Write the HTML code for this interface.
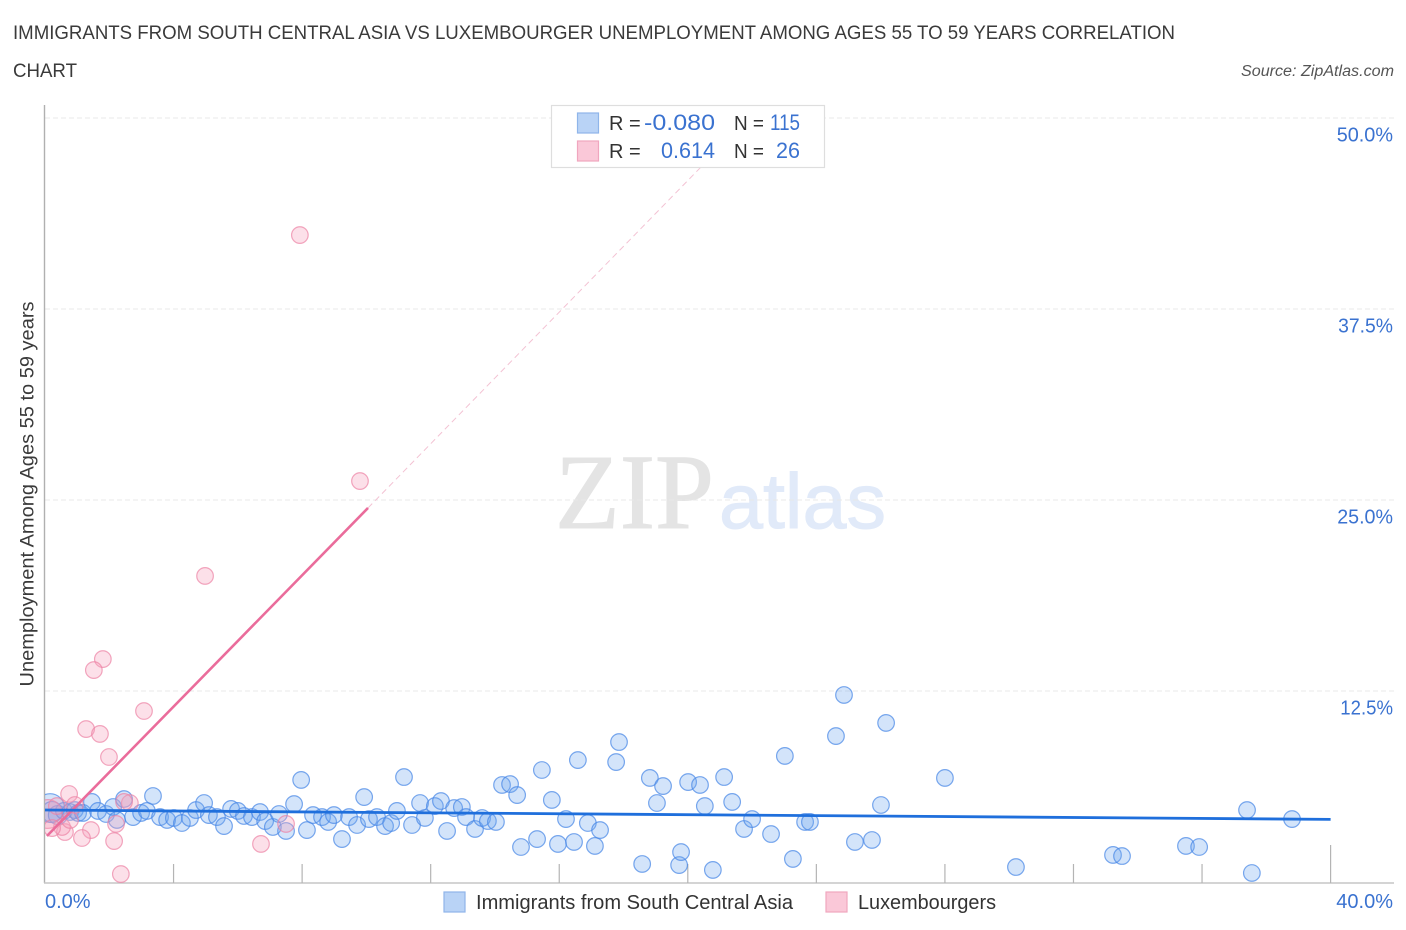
<!DOCTYPE html>
<html lang="en">
<head>
<meta charset="utf-8">
<title>Immigrants from South Central Asia vs Luxembourger Unemployment Chart</title>
<style>
html,body{margin:0;padding:0;background:#fff;width:1406px;height:930px;overflow:hidden}
svg{display:block;font-family:"Liberation Sans",sans-serif}
</style>
</head>
<body>
<svg id="chart" xmlns="http://www.w3.org/2000/svg" width="1406" height="930" viewBox="0 0 1406 930">
  <defs>
    <clipPath id="plotClip"><rect x="45" y="100" width="1350" height="783"/></clipPath>
  </defs>
  <rect x="0" y="0" width="1406" height="930" fill="#fff"/>
  <text x="13" y="39" font-size="19" fill="#3a3a3a" textLength="1162" lengthAdjust="spacingAndGlyphs">IMMIGRANTS FROM SOUTH CENTRAL ASIA VS LUXEMBOURGER UNEMPLOYMENT AMONG AGES 55 TO 59 YEARS CORRELATION</text>
  <text x="13" y="77" font-size="19" fill="#3a3a3a" textLength="64" lengthAdjust="spacingAndGlyphs">CHART</text>
  <text x="1241" y="76" font-size="15.5" font-style="italic" fill="#555" textLength="153" lengthAdjust="spacingAndGlyphs">Source: ZipAtlas.com</text>
  <g>
    <text x="555" y="528" font-family="'Liberation Serif',serif" font-size="107" fill="#e4e4e4" stroke="#e4e4e4" stroke-width="1" textLength="159" lengthAdjust="spacingAndGlyphs">ZIP</text>
    <text x="719" y="528" font-family="'Liberation Sans',sans-serif" font-size="78" fill="#e1eaf9" stroke="#e1eaf9" stroke-width="1" textLength="167" lengthAdjust="spacingAndGlyphs">atlas</text>
  </g>
  <g id="grid"></g>
  <g id="axes"></g>
  <g clip-path="url(#plotClip)">
    <g id="bluePoints"></g>
    <g id="pinkPoints"></g>
    <g id="trends"></g>
  </g>
  <text transform="translate(33.5,494) rotate(-90)" font-size="19" fill="#3a3a3a" text-anchor="middle" textLength="385" lengthAdjust="spacingAndGlyphs">Unemployment Among Ages 55 to 59 years</text>

  <g>
    <rect x="551.5" y="105.5" width="273" height="62" fill="#fff" stroke="#dedede" stroke-width="1.2"/>
    <rect x="577.5" y="113" width="21" height="20" fill="#b9d3f6" stroke="#8fb5ea" stroke-width="1.2"/>
    <rect x="577.5" y="141" width="21" height="20" fill="#fac8d8" stroke="#f0a6bf" stroke-width="1.2"/>
    <text x="609" y="130" font-size="20" fill="#333">R =</text>
    <text x="644" y="130" font-size="22" fill="#3a72d0" textLength="71" lengthAdjust="spacingAndGlyphs">-0.080</text>
    <text x="734" y="130" font-size="20" fill="#333" textLength="30" lengthAdjust="spacingAndGlyphs">N =</text>
    <text x="770" y="130" font-size="22" fill="#3a72d0" textLength="30" lengthAdjust="spacingAndGlyphs">115</text>
    <text x="609" y="158" font-size="20" fill="#333">R =</text>
    <text x="661" y="158" font-size="22" fill="#3a72d0" textLength="54" lengthAdjust="spacingAndGlyphs">0.614</text>
    <text x="734" y="158" font-size="20" fill="#333" textLength="30" lengthAdjust="spacingAndGlyphs">N =</text>
    <text x="776" y="158" font-size="22" fill="#3a72d0" textLength="24" lengthAdjust="spacingAndGlyphs">26</text>
  </g>

  <g>
    <rect x="444" y="892" width="21" height="20" fill="#b9d3f6" stroke="#8fb5ea" stroke-width="1.2"/>
    <text x="476" y="909" font-size="20" fill="#333" textLength="317" lengthAdjust="spacingAndGlyphs">Immigrants from South Central Asia</text>
    <rect x="826" y="892" width="21" height="20" fill="#fac8d8" stroke="#f0a6bf" stroke-width="1.2"/>
    <text x="858" y="909" font-size="20" fill="#333" textLength="138" lengthAdjust="spacingAndGlyphs">Luxembourgers</text>
  </g>
</svg>
<script>
const xTickValues = [0, 4, 8, 12, 16, 20, 24, 28, 32, 36, 40];
const xEndLabels = ['0.0%', '40.0%'];
const yTickValues = [50, 37.5, 25, 12.5];
const yTickLabels = ['50.0%', '37.5%', '25.0%', '12.5%'];

const blueX = [0.16,0.22,0.40,0.59,0.78,0.93,1.03,1.18,1.46,1.65,1.90,2.12,2.24,2.46,2.74,2.99,3.17,3.36,3.58,3.80,4.01,4.26,4.51,4.70,4.95,5.10,5.35,5.57,5.79,6.00,6.19,6.44,6.69,6.85,7.09,7.28,7.50,7.75,7.97,8.15,8.34,8.62,8.81,8.99,9.24,9.46,9.71,9.93,10.08,10.33,10.58,10.77,10.95,11.17,11.42,11.67,11.82,12.13,12.32,12.51,12.73,12.97,13.10,13.38,13.60,13.78,14.03,14.22,14.47,14.69,14.81,15.31,15.46,15.77,15.96,16.21,16.46,16.58,16.89,17.11,17.27,17.77,17.86,18.58,18.82,19.04,19.23,19.73,19.79,20.01,20.38,20.53,20.78,21.13,21.38,21.75,22.00,22.59,23.02,23.27,23.65,23.80,24.61,24.86,25.20,25.73,26.01,26.17,28.00,30.21,33.23,33.51,35.50,35.91,37.40,37.55,38.80];
const blueY = [4.84,4.58,4.38,4.65,4.58,4.71,4.52,4.52,5.24,4.65,4.45,4.91,4.06,5.43,4.25,4.52,4.65,5.63,4.25,4.06,4.19,3.86,4.19,4.71,5.17,4.38,4.25,3.66,4.78,4.65,4.32,4.25,4.58,3.99,3.60,4.45,3.34,5.10,6.68,3.40,4.38,4.25,3.93,4.38,2.81,4.25,3.73,5.56,4.12,4.25,3.66,3.86,4.65,6.87,3.73,5.17,4.19,4.97,5.30,3.34,4.84,4.91,4.25,3.47,4.19,3.99,3.93,6.35,6.41,5.69,2.29,2.81,7.33,5.37,2.49,4.12,2.62,7.98,3.86,2.36,3.40,7.85,9.16,1.18,6.81,5.17,6.28,1.11,1.96,6.54,6.35,4.97,0.79,6.87,5.24,3.47,4.12,3.14,8.25,1.51,3.93,3.93,9.55,12.24,2.62,2.75,5.04,10.41,6.81,0.98,1.77,1.70,2.36,2.29,4.71,0.59,4.12];
const blueWeights = [3.0,1.6,1.3];

const pinkX = [0.09,7.93,9.80,4.98,1.80,1.52,3.08,1.28,1.71,1.99,0.75,2.64,2.46,2.21,1.43,1.15,0.62,2.15,2.36,6.72,7.50,0.53,0.22,0.37,0.93,0.78];
const pinkY = [4.45,42.34,26.24,20.03,14.59,13.87,11.19,10.01,9.69,8.18,5.76,5.17,5.24,3.80,3.40,2.88,3.27,2.68,0.52,2.49,3.80,3.60,3.53,4.97,5.04,4.06];
const pinkWeights = [3.0];

const blueTrendX = [0, 40];
const blueTrendY = [4.71, 4.10];
const pinkTrendSolidX = [0.06, 10.05];
const pinkTrendSolidY = [3.01, 24.48];
const pinkTrendDashX = [10.05, 21.9];
const pinkTrendDashY = [24.48, 50];

const SVG_NS = 'http://www.w3.org/2000/svg';
const xScale = v => 45 + v * 32.14;
const yScale = v => 882 - v * 15.28;
const digitWidth = {'1': 8, '3': 10.4, '7': 10.4, '2': 10.6};

function make(parent, tag, attrs, text) {
  const el = document.createElementNS(SVG_NS, tag);
  for (const k in attrs) el.setAttribute(k, attrs[k]);
  if (text !== undefined) el.textContent = text;
  parent.appendChild(el);
  return el;
}

function labelWidth(label) {
  let w = 0;
  for (const ch of label) {
    if (ch === '%') w += 17.6;
    else if (ch === '.') w += 5.4;
    else w += digitWidth[ch] || 11.1;
  }
  return w;
}

const grid = document.getElementById('grid');
const axes = document.getElementById('axes');
const bluePoints = document.getElementById('bluePoints');
const pinkPoints = document.getElementById('pinkPoints');
const trends = document.getElementById('trends');

yTickValues.forEach((v, i) => {
  const line = make(grid, 'line', {x1: 45, x2: 1394, y1: yScale(v), y2: yScale(v), stroke: '#e8e8e8', 'stroke-width': 1, 'stroke-dasharray': '5 3'});
  
  
  const w = labelWidth(yTickLabels[i]);
  const label = make(axes, 'text', {x: 1393 - w, y: yScale(v) + 23.6, 'font-size': 20, fill: '#3a72d0', textLength: w, lengthAdjust: 'spacingAndGlyphs'}, yTickLabels[i]);
  
  
});

const yAxisLine = make(axes, 'line', {x1: 44.5, x2: 44.5, y1: 105, y2: 883, stroke: '#b0b0b0', 'stroke-width': 1.4});


const xAxisLine = make(axes, 'line', {x1: 44, x2: 1394, y1: 883, y2: 883, stroke: '#c6c6c6', 'stroke-width': 1.6});



xTickValues.slice(1).forEach((v, i, all) => {
  const top = i === all.length - 1 ? 845 : 864;
  const tick = make(axes, 'line', {x1: xScale(v), x2: xScale(v), y1: top, y2: 883, stroke: '#b4b4b4', 'stroke-width': 1.2});
  
  
});

const xLabelStart = make(axes, 'text', {x: 45, y: 908, 'font-size': 20, fill: '#3a72d0'}, xEndLabels[0]);


const xLabelEnd = make(axes, 'text', {x: 1393, y: 908, 'font-size': 20, fill: '#3a72d0', 'text-anchor': 'end'}, xEndLabels[1]);



blueX.forEach((v, i) => {
  const w = i < blueWeights.length ? blueWeights[i] : 1;
  const c = make(bluePoints, 'circle', {cx: xScale(v), cy: yScale(blueY[i]), r: 8.3 * Math.sqrt(w), fill: 'rgba(110,165,238,0.3)', stroke: 'rgba(70,135,230,0.72)', 'stroke-width': 1.2});
  
  
});

pinkX.forEach((v, i) => {
  const w = i < pinkWeights.length ? pinkWeights[i] : 1;
  const c = make(pinkPoints, 'circle', {cx: xScale(v), cy: yScale(pinkY[i]), r: 8.3 * Math.sqrt(w), fill: 'rgba(246,160,188,0.33)', stroke: 'rgba(236,130,164,0.7)', 'stroke-width': 1.2});
  
  
});

const pinkDash = make(trends, 'line', {x1: xScale(pinkTrendDashX[0]), y1: yScale(pinkTrendDashY[0]), x2: xScale(pinkTrendDashX[1]), y2: yScale(pinkTrendDashY[1]), stroke: '#f3c2d3', 'stroke-width': 1, 'stroke-dasharray': '6 4'});


const pinkSolid = make(trends, 'line', {x1: xScale(pinkTrendSolidX[0]), y1: yScale(pinkTrendSolidY[0]), x2: xScale(pinkTrendSolidX[1]), y2: yScale(pinkTrendSolidY[1]), stroke: '#ea6c9b', 'stroke-width': 2.6});


const blueSolid = make(trends, 'line', {x1: xScale(blueTrendX[0]), y1: yScale(blueTrendY[0]), x2: xScale(blueTrendX[1]), y2: yScale(blueTrendY[1]), stroke: '#1f6fdc', 'stroke-width': 2.8});


</script>
</body>
</html>
